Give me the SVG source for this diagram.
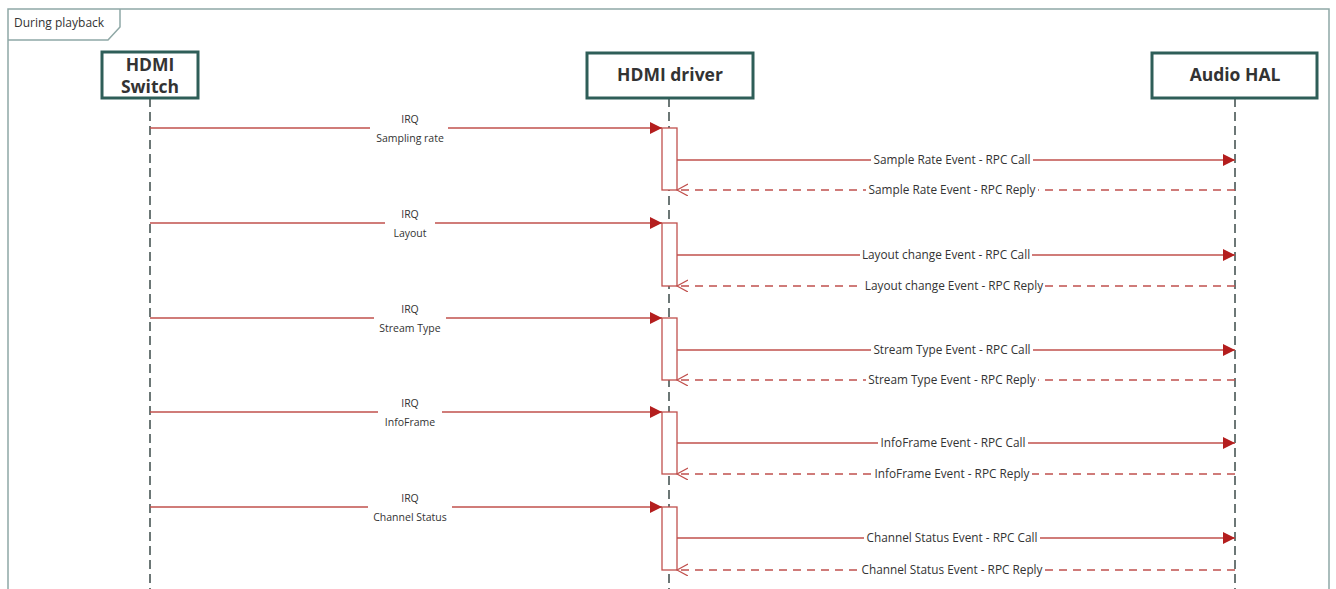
<svg xmlns="http://www.w3.org/2000/svg" width="1336" height="589" viewBox="0 0 1336 589">
<style>
.frame{fill:none;stroke:#8fa8a6;stroke-width:1.5}
.box{fill:#fff;stroke:#2e5e58;stroke-width:3}
.title{font-family:"Open Sans","Liberation Sans",sans-serif;font-weight:bold;font-size:17.5px;fill:#333;text-anchor:middle}
.life{stroke:#3d4b4a;stroke-width:1.5;stroke-dasharray:9 5;fill:none}
.act{fill:#fff;stroke:#c0504d;stroke-width:1.3}
.msg{stroke:#c0504d;stroke-width:1.3;fill:none}
.rep{stroke:#c0504d;stroke-width:1.3;fill:none;stroke-dasharray:8 6}
.lbl{font-family:"Open Sans","Liberation Sans",sans-serif;font-size:10.5px;fill:#333;text-anchor:middle}
.ev{font-family:"Open Sans","Liberation Sans",sans-serif;font-size:11.8px;fill:#333;text-anchor:middle}
.bg{fill:#fff}
.ftxt{font-family:"Open Sans","Liberation Sans",sans-serif;font-size:12px;fill:#333}
</style>
<defs>
<marker id="fill" markerWidth="14" markerHeight="12" refX="12" refY="6" orient="auto" markerUnits="userSpaceOnUse">
<path d="M0,0 L12,6 L0,12 Z" fill="#b41e1e"/>
</marker>
<marker id="open" markerWidth="14" markerHeight="14" refX="11" refY="6" orient="auto" markerUnits="userSpaceOnUse">
<path d="M0,0 L11,6 L0,12" fill="none" stroke="#c0504d" stroke-width="1.2"/>
</marker>
</defs>
<g id="frame">
<path class="frame" d="M8,589 L8,9 L1329,9 L1329,589"/>
<path class="frame" d="M8,40 L108,40 L120,27 L120,9"/>
<text class="ftxt" x="14" y="27">During playback</text>
</g>
<g id="lifelines">
<line class="life" x1="150" y1="98" x2="150" y2="589"/>
<line class="life" x1="669" y1="98" x2="669" y2="589"/>
<line class="life" x1="1235" y1="98" x2="1235" y2="589"/>
</g>
<g id="hdmi-switch">
<rect class="box" x="102" y="52" width="96" height="46"/>
<text class="title" x="150" y="71">HDMI</text>
<text class="title" x="150" y="93">Switch</text>
</g>
<g id="hdmi-driver">
<rect class="box" x="587" y="53" width="166" height="45"/>
<text class="title" x="670" y="81">HDMI driver</text>
</g>
<g id="audio-hal">
<rect class="box" x="1152" y="53" width="165" height="45"/>
<text class="title" x="1235" y="81">Audio HAL</text>
</g>
<g id="activations">
<rect class="act" x="662" y="128" width="15" height="62"/>
<rect class="act" x="662" y="223" width="15" height="63"/>
<rect class="act" x="662" y="318" width="15" height="62"/>
<rect class="act" x="662" y="412" width="15" height="62"/>
<rect class="act" x="662" y="507" width="15" height="63"/>
</g>
<g id="connectors">
<line class="msg" x1="150" y1="128" x2="662" y2="128" marker-end="url(#fill)"/>
<line class="msg" x1="677" y1="160" x2="1235" y2="160" marker-end="url(#fill)"/>
<line class="rep" x1="1235" y1="190" x2="677" y2="190" marker-end="url(#open)"/>
<line class="msg" x1="150" y1="223" x2="662" y2="223" marker-end="url(#fill)"/>
<line class="msg" x1="677" y1="255" x2="1235" y2="255" marker-end="url(#fill)"/>
<line class="rep" x1="1235" y1="286" x2="677" y2="286" marker-end="url(#open)"/>
<line class="msg" x1="150" y1="318" x2="662" y2="318" marker-end="url(#fill)"/>
<line class="msg" x1="677" y1="350" x2="1235" y2="350" marker-end="url(#fill)"/>
<line class="rep" x1="1235" y1="380" x2="677" y2="380" marker-end="url(#open)"/>
<line class="msg" x1="150" y1="412" x2="662" y2="412" marker-end="url(#fill)"/>
<line class="msg" x1="677" y1="443" x2="1235" y2="443" marker-end="url(#fill)"/>
<line class="rep" x1="1235" y1="474" x2="677" y2="474" marker-end="url(#open)"/>
<line class="msg" x1="150" y1="507" x2="662" y2="507" marker-end="url(#fill)"/>
<line class="msg" x1="677" y1="538" x2="1235" y2="538" marker-end="url(#fill)"/>
<line class="rep" x1="1235" y1="570" x2="677" y2="570" marker-end="url(#open)"/>
</g>
<g id="labels">
<rect class="bg" x="370" y="112" width="78" height="34"/>
<text class="lbl" x="410" y="123">IRQ</text>
<text class="lbl" x="410" y="142">Sampling rate</text>
<rect class="bg" x="871" y="153" width="162" height="14"/>
<text class="ev" x="952" y="164">Sample Rate Event - RPC Call</text>
<rect class="bg" x="866" y="183" width="172" height="14"/>
<text class="ev" x="952" y="194">Sample Rate Event - RPC Reply</text>

<rect class="bg" x="385" y="207" width="50" height="34"/>
<text class="lbl" x="410" y="218">IRQ</text>
<text class="lbl" x="410" y="237">Layout</text>
<rect class="bg" x="860" y="248" width="172" height="14"/>
<text class="ev" x="946" y="259">Layout change Event - RPC Call</text>
<rect class="bg" x="863" y="279" width="182" height="14"/>
<text class="ev" x="954" y="290">Layout change Event - RPC Reply</text>

<rect class="bg" x="374" y="302" width="72" height="34"/>
<text class="lbl" x="410" y="313">IRQ</text>
<text class="lbl" x="410" y="332">Stream Type</text>
<rect class="bg" x="871" y="343" width="162" height="14"/>
<text class="ev" x="952" y="354">Stream Type Event - RPC Call</text>
<rect class="bg" x="866" y="373" width="172" height="14"/>
<text class="ev" x="952" y="384">Stream Type Event - RPC Reply</text>

<rect class="bg" x="378" y="396" width="64" height="34"/>
<text class="lbl" x="410" y="407">IRQ</text>
<text class="lbl" x="410" y="426">InfoFrame</text>
<rect class="bg" x="878" y="436" width="150" height="14"/>
<text class="ev" x="953" y="447">InfoFrame Event - RPC Call</text>
<rect class="bg" x="873" y="467" width="159" height="14"/>
<text class="ev" x="952" y="478">InfoFrame Event - RPC Reply</text>

<rect class="bg" x="368" y="491" width="84" height="34"/>
<text class="lbl" x="410" y="502">IRQ</text>
<text class="lbl" x="410" y="521">Channel Status</text>
<rect class="bg" x="864" y="531" width="176" height="14"/>
<text class="ev" x="952" y="542">Channel Status Event - RPC Call</text>
<rect class="bg" x="860" y="563" width="184" height="14"/>
<text class="ev" x="952" y="574">Channel Status Event - RPC Reply</text>
</g>
</svg>
